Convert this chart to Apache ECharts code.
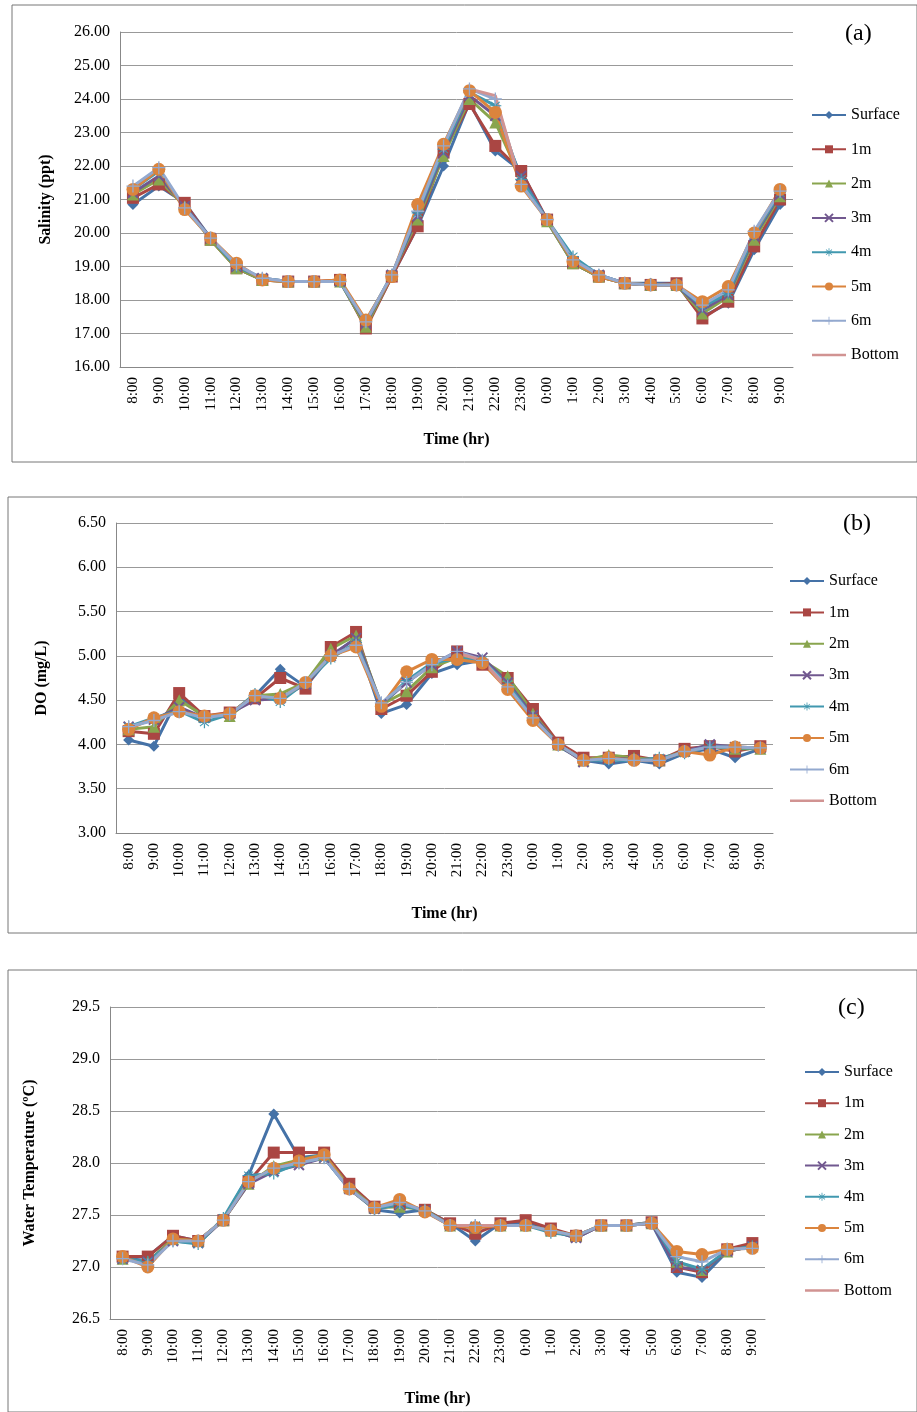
<!DOCTYPE html>
<html>
<head>
<meta charset="utf-8">
<script src="https://cdn.jsdelivr.net/npm/echarts@6/dist/echarts.min.js"></script>
<style>html,body{margin:0;padding:0;background:#fff}#main{width:917px;height:1412px}</style>
</head>
<body>
<div id="main"></div>
<script>
var hours = ['8:00','9:00','10:00','11:00','12:00','13:00','14:00','15:00','16:00','17:00','18:00','19:00','20:00','21:00','22:00','23:00','0:00','1:00','2:00','3:00','4:00','5:00','6:00','7:00','8:00','9:00'];
var depths = ['Surface','1m','2m','3m','4m','5m','6m','Bottom'];

// (a) salinity, ppt
var salSurface = [20.85,21.4,20.9,19.85,18.95,18.6,18.55,18.55,18.55,17.2,18.7,20.2,22.0,23.9,22.45,21.85,20.35,19.1,18.7,18.5,18.5,18.5,17.5,17.9,19.5,20.85];
var sal1m      = [21.05,21.45,20.9,19.8,18.95,18.6,18.55,18.55,18.6,17.15,18.7,20.2,22.4,23.85,22.6,21.85,20.4,19.1,18.7,18.5,18.45,18.5,17.45,17.95,19.6,21.0];
var sal2m      = [21.15,21.6,20.8,19.8,18.95,18.6,18.55,18.55,18.55,17.2,18.75,20.4,22.3,24.0,23.3,21.6,20.35,19.1,18.7,18.5,18.45,18.45,17.6,18.1,19.8,21.1];
var sal3m      = [21.2,21.7,20.8,19.85,19.0,18.65,18.55,18.55,18.55,17.3,18.75,20.5,22.4,24.1,23.5,21.7,20.4,19.15,18.75,18.5,18.45,18.45,17.7,18.15,19.9,21.15];
var sal4m      = [21.3,21.85,20.75,19.85,19.0,18.65,18.55,18.55,18.55,17.35,18.75,20.6,22.5,24.2,23.8,21.6,20.4,19.3,18.75,18.5,18.45,18.45,17.8,18.2,19.95,21.2];
var sal5m      = [21.3,21.9,20.7,19.85,19.1,18.6,18.55,18.55,18.6,17.4,18.7,20.85,22.65,24.25,23.6,21.4,20.4,19.15,18.7,18.5,18.45,18.45,17.95,18.4,20.0,21.3];
var sal6m      = [21.4,21.95,20.75,19.85,19.05,18.65,18.55,18.55,18.55,17.35,18.75,20.65,22.6,24.3,24.0,21.45,20.4,19.2,18.75,18.5,18.45,18.45,17.85,18.3,20.05,21.25];
var salBottom  = [null,null,null,null,null,null,null,null,null,null,null,null,null,24.3,24.1,21.4,null,null,null,null,null,null,null,null,null,null];

// (b) dissolved oxygen, mg/L
var doSurface = [4.05,3.98,4.55,4.3,4.35,4.55,4.85,4.65,5.0,5.2,4.35,4.45,4.8,4.9,4.95,4.7,4.35,3.98,3.82,3.78,3.82,3.78,3.9,3.95,3.85,3.95];
var do1m      = [4.15,4.12,4.58,4.32,4.36,4.52,4.75,4.63,5.1,5.27,4.4,4.55,4.82,5.05,4.9,4.75,4.4,4.02,3.85,3.85,3.87,3.82,3.95,3.98,3.92,3.98];
var do2m      = [4.17,4.2,4.5,4.32,4.32,4.55,4.57,4.7,5.08,5.23,4.45,4.6,4.87,4.98,4.95,4.77,4.35,4.0,3.82,3.88,3.85,3.82,3.93,3.97,3.95,3.95];
var do3m      = [4.2,4.28,4.42,4.3,4.35,4.5,4.52,4.68,5.0,5.2,4.45,4.7,4.9,5.05,4.98,4.7,4.33,4.0,3.8,3.85,3.83,3.82,3.92,4.0,3.97,3.96];
var do4m      = [4.2,4.3,4.38,4.25,4.34,4.57,4.48,4.7,4.97,5.15,4.45,4.72,4.92,4.97,4.95,4.68,4.3,4.0,3.82,3.82,3.82,3.85,3.9,3.98,3.96,3.96];
var do5m      = [4.17,4.3,4.37,4.32,4.35,4.55,4.52,4.7,5.0,5.1,4.43,4.82,4.96,4.96,4.92,4.62,4.27,4.0,3.82,3.85,3.82,3.82,3.92,3.88,3.97,3.96];
var do6m      = [4.2,4.27,4.37,4.3,4.34,4.55,4.52,4.7,5.0,5.12,4.47,4.7,4.9,5.05,4.95,4.65,4.3,4.0,3.82,3.84,3.82,3.82,3.92,3.97,3.97,3.96];
var doBottom  = [null,null,null,null,null,null,null,null,null,null,null,null,null,5.03,4.95,4.62,null,null,null,null,null,null,null,null,null,null];

// (c) water temperature, °C
var tSurface = [27.08,27.1,27.3,27.25,27.45,27.88,28.47,28.05,28.08,27.78,27.55,27.52,27.55,27.42,27.25,27.42,27.43,27.35,27.28,27.4,27.4,27.42,26.95,26.9,27.15,27.2];
var t1m      = [27.1,27.1,27.3,27.25,27.45,27.82,28.1,28.1,28.1,27.8,27.58,27.6,27.55,27.42,27.32,27.42,27.45,27.37,27.3,27.4,27.4,27.43,27.0,26.95,27.17,27.23];
var t2m      = [27.08,27.05,27.27,27.25,27.45,27.8,27.97,28.03,28.08,27.77,27.57,27.58,27.55,27.4,27.38,27.4,27.4,27.35,27.3,27.4,27.4,27.42,27.05,26.97,27.15,27.2];
var t3m      = [27.08,27.05,27.25,27.23,27.45,27.8,27.92,27.98,28.05,27.75,27.56,27.6,27.54,27.4,27.38,27.4,27.4,27.35,27.28,27.4,27.4,27.42,27.0,26.97,27.15,27.2];
var t4m      = [27.08,27.05,27.25,27.22,27.47,27.88,27.9,28.0,28.05,27.75,27.56,27.6,27.54,27.4,27.4,27.4,27.4,27.33,27.3,27.4,27.4,27.43,27.05,26.98,27.16,27.2];
var t5m      = [27.1,27.0,27.27,27.25,27.45,27.82,27.95,28.02,28.08,27.75,27.57,27.65,27.53,27.4,27.38,27.4,27.4,27.35,27.3,27.4,27.4,27.42,27.15,27.12,27.17,27.18];
var t6m      = [27.08,27.02,27.25,27.25,27.45,27.82,27.95,28.0,28.05,27.75,27.57,27.62,27.54,27.4,27.4,27.4,27.4,27.35,27.3,27.4,27.4,27.42,27.1,27.05,27.17,27.18];
var tBottom  = [null,null,null,null,null,null,null,null,null,null,null,null,null,27.4,27.4,27.4,null,null,null,null,null,null,null,null,null,null];

var colors = ['#4572A7','#AA4643','#89A54E','#71588F','#4198AF','#DB843D','#93A9CF','#D19392'];
var symbols = [
  'diamond','rect','triangle',
  'path://M0,0L2,2M2,0L0,2M0,0L2,2',
  'path://M9,0h2v8l6-5 1,1.5-6,5h8v2h-8l6,5-1,1.5-6-5v8h-2v-8l-6,5-1-1.5 6-5H0v-2h8L2,4.5 3,3l6,5z',
  'circle',
  'path://M9,0h2v9h9v2h-9v9h-2v-9H0v-2h9z',
  'none'
];
var symbolSizes = [11,12,12,10,12,13,13,0];

var font = 'Liberation Serif';
var panels = [
  { data: [salSurface,sal1m,sal2m,sal3m,sal4m,sal5m,sal6m,salBottom], min: 16, max: 26, interval: 1, dec: 2,
    name: 'Salinity (ppt)', xGap: 65, grid: {left: 120, top: 32, width: 673, height: 335}, legend: {left: 806, top: 102, itemGap: 18.3}, tag: '(a)', tagPos: [845, 22], box: [12,5,905,457] },
  { data: [doSurface,do1m,do2m,do3m,do4m,do5m,do6m,doBottom], min: 3, max: 6.5, interval: 0.5, dec: 2,
    name: 'DO (mg/L)', xGap: 73, grid: {left: 116, top: 523, width: 657, height: 310}, legend: {left: 784, top: 568, itemGap: 15.4}, tag: '(b)', tagPos: [843, 512], box: [8,497,909,436] },
  { data: [tSurface,t1m,t2m,t3m,t4m,t5m,t6m,tBottom], min: 26.5, max: 29.5, interval: 0.5, dec: 1,
    name: 'Water Temperature (ºC)', xGap: 72, grid: {left: 110, top: 1007, width: 655, height: 312}, legend: {left: 799, top: 1059, itemGap: 15.2}, tag: '(c)', tagPos: [838, 996], box: [8,970,909,442] }
];

var option = { animation: false, grid: [], xAxis: [], yAxis: [], legend: [], series: [], graphic: [] };

panels.forEach(function (p, gi) {
  option.grid.push(p.grid);
  option.xAxis.push({
    type: 'category', gridIndex: gi, data: hours, boundaryGap: true,
    name: 'Time (hr)', nameLocation: 'middle', nameGap: p.xGap,
    nameTextStyle: { fontFamily: font, fontWeight: 'bold', fontSize: 16, color: '#000' },
    axisLine: { lineStyle: { color: '#888' } }, axisTick: { show: false },
    axisLabel: { rotate: 90, interval: 0, fontFamily: font, fontSize: 15, color: '#000', margin: 10 }
  });
  option.yAxis.push({
    type: 'value', gridIndex: gi, min: p.min, max: p.max, interval: p.interval,
    name: p.name, nameLocation: 'middle', nameGap: gi == 2 ? 72 : 66,
    nameTextStyle: { fontFamily: font, fontWeight: 'bold', fontSize: 16, color: '#000' },
    axisLine: { show: true, lineStyle: { color: '#888' } }, axisTick: { show: false },
    splitLine: { lineStyle: { color: '#999' } },
    axisLabel: { fontFamily: font, fontSize: 16, color: '#000', margin: 10,
      formatter: function (v) { return v.toFixed(p.dec); } }
  });
  option.legend.push({
    orient: 'vertical', left: p.legend.left, top: p.legend.top, itemGap: p.legend.itemGap,
    itemWidth: 34, itemHeight: 10,
    data: depths.map(function (d) {
      return d == 'Bottom' ? { name: d, icon: 'path://M0,4h34v2.5H0z' } : d;
    }),
    textStyle: { fontFamily: font, fontSize: 16, color: '#000' }
  });
  p.data.forEach(function (arr, si) {
    option.series.push({
      type: 'line', name: depths[si], xAxisIndex: gi, yAxisIndex: gi, data: arr,
      symbol: symbols[si], symbolSize: symbolSizes[si],
      color: colors[si],
      lineStyle: { width: 3, color: colors[si] },
      itemStyle: { color: colors[si], borderColor: colors[si], borderWidth: si == 3 ? 2 : 0 }
    });
  });
  option.graphic.push({
    type: 'rect', shape: { x: p.box[0], y: p.box[1], width: p.box[2], height: p.box[3] },
    style: { fill: 'none', stroke: '#777', lineWidth: 1 }
  });
  option.graphic.push({
    type: 'text', x: p.tagPos[0], y: p.tagPos[1],
    style: { text: p.tag, fontFamily: font, fontSize: 24, fill: '#000' }
  });
});

var chart = echarts.init(document.getElementById('main'));
chart.setOption(option);
</script>
</body>
</html>
